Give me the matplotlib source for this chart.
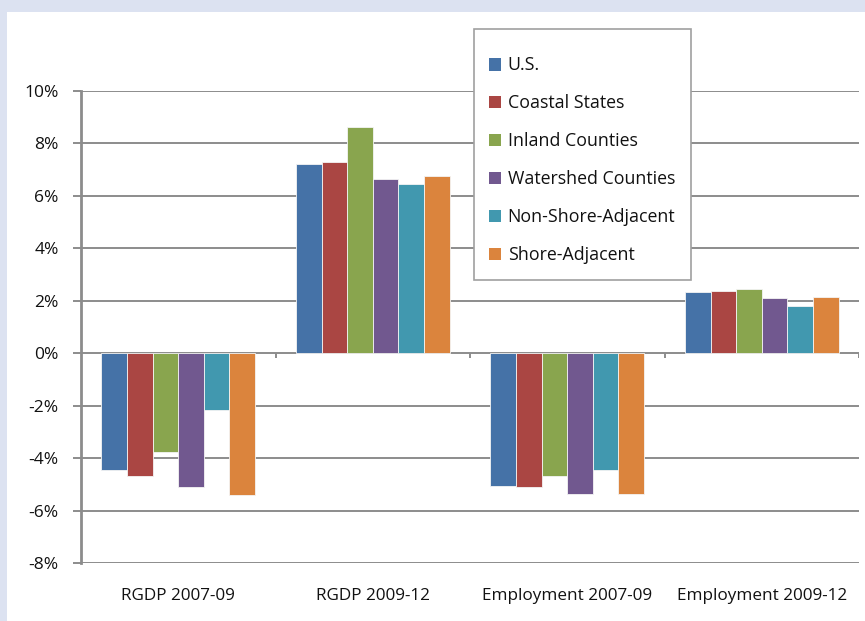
#!/usr/bin/env python3
"""
Variação percentual de RGDP e emprego por tipo de região
"""
import numpy as np
import matplotlib
matplotlib.use('Agg')
import matplotlib.pyplot as plt
from matplotlib.patches import Rectangle, Patch

categorias = ['RGDP 2007-09', 'RGDP 2009-12', 'Employment 2007-09', 'Employment 2009-12']
series = ['U.S.', 'Coastal States', 'Inland Counties', 'Watershed Counties',
          'Non-Shore-Adjacent', 'Shore-Adjacent']

us = [-4.44, 7.21, -5.05, 2.33]
coastal = [-4.68, 7.29, -5.11, 2.39]
inland = [-3.75, 8.63, -4.68, 2.46]
watershed = [-5.11, 6.66, -5.36, 2.09]
non_shore = [-2.15, 6.47, -4.44, 1.79]
shore = [-5.42, 6.77, -5.36, 2.15]

valores = [us, coastal, inland, watershed, non_shore, shore]
cores = ['#4572a7', '#aa4643', '#89a54e', '#71588f', '#4198af', '#db843d']

plt.rcParams['font.family'] = ['Open Sans', 'DejaVu Sans']

W, H = 865, 621
fig = plt.figure(figsize=(W / 100, H / 100), dpi=100)
fig.patch.set_facecolor('#dce2f1')

# painel branco
fig.patches.append(Rectangle((7 / W, 0), 1, 1 - 12 / H, transform=fig.transFigure,
                             facecolor='white', edgecolor='none', zorder=-10))

ax = fig.add_axes([81 / W, 1 - 563 / H, (859 - 81) / W, (563 - 91) / H])
ax.set_facecolor('none')
ax.set_zorder(1)

x = np.arange(len(categorias))
largura = 0.79 / len(series)
for j, (vals, cor) in enumerate(zip(valores, cores)):
    ax.bar(x + (j - 2.5) * largura, vals, largura, color=cor,
           edgecolor='#f4f4f4', linewidth=0.6, zorder=3)

ax.set_xlim(-0.5, 3.5)
ax.set_ylim(-8, 10)
ax.set_yticks(np.arange(-8, 11, 2))
ax.set_yticklabels([f'{v}%' for v in range(-8, 11, 2)])
ax.grid(True, axis='y', color='#8c8c8c', linewidth=1.4, zorder=1)
ax.set_xticks(x)
ax.set_xticklabels(categorias)

for s in ['top', 'right', 'bottom']:
    ax.spines[s].set_visible(False)
ax.spines['left'].set_color('#8c8c8c')
ax.spines['left'].set_linewidth(2)

ax.tick_params(axis='y', length=6, width=1.4, color='#8c8c8c', labelsize=12.5,
               labelcolor='#111111', pad=10)
ax.tick_params(axis='x', length=0, labelsize=12.3, labelcolor='#111111', pad=18)

# marcas das categorias na linha do zero
ax.vlines([0.5, 1.5, 2.5, 3.5], -0.2, 0, color='#8c8c8c', linewidth=1.4, zorder=2)

# moldura da legenda
fig.patches.append(Rectangle((474 / W, 1 - 280 / H), (691 - 474) / W, (280 - 29) / H,
                             transform=fig.transFigure, facecolor='white',
                             edgecolor='#a0a0a0', linewidth=1.2, zorder=4))

handles = [Patch(facecolor=c, edgecolor='none') for c in cores]
leg = fig.legend(handles, series, loc='upper left',
                 bbox_to_anchor=(489 / W, 1 - 56.5 / H), frameon=False,
                 fontsize=12.8, handlelength=0.7, handleheight=0.7,
                 handletextpad=0.35, labelspacing=1.12, borderpad=0,
                 borderaxespad=0)
leg.set_zorder(5)
for t in leg.get_texts():
    t.set_color('#111111')

fig.savefig('out.png', dpi=100, facecolor=fig.get_facecolor())
